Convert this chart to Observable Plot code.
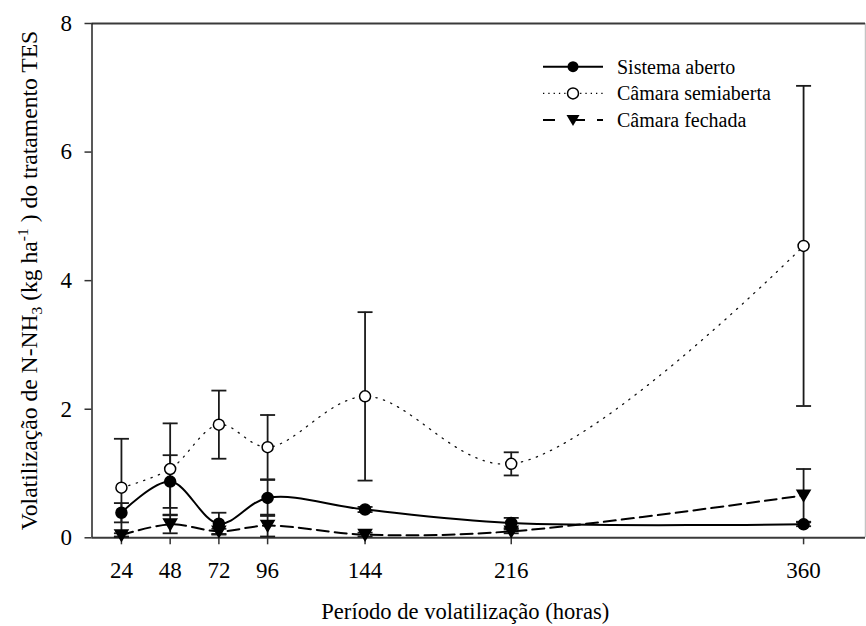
<!DOCTYPE html>
<html>
<head>
<meta charset="utf-8">
<script src="https://cdn.jsdelivr.net/npm/d3@7"></script>
<script src="https://cdn.jsdelivr.net/npm/@observablehq/plot@0.6"></script>
<style>
  html, body { margin: 0; padding: 0; background: white; }
  #chart { width: 866px; height: 626px; }
  #chart svg, #chart svg text { font-family: "Liberation Serif", Tinos, "DejaVu Serif", serif; }
</style>
</head>
<body>
<div id="chart"></div>
<script>
// ---- data ----
const hours = [24, 48, 72, 96, 144, 216, 360];
const seriesNames = ["Sistema aberto", "Câmara semiaberta", "Câmara fechada"];
const abertoMean  = [0.39, 0.875, 0.22, 0.62, 0.44, 0.23, 0.21];
const abertoSD    = [0.15, 0.41, 0.17, 0.28, 0.04, 0.08, 0.03];
const semiMean    = [0.78, 1.07, 1.76, 1.41, 2.20, 1.15, 4.54];
const semiSD      = [0.76, 0.71, 0.53, 0.50, 1.31, 0.18, 2.49];
const fechadaMean = [0.04, 0.21, 0.10, 0.19, 0.05, 0.10, 0.66];
const fechadaSD   = [0.03, 0.14, 0.04, 0.17, 0.03, 0.03, 0.41];
const yTicks = [0, 2, 4, 6, 8];
const xDomain = [9.5, 390.5];
const yDomain = [0, 8];
const xTitle = "Período de volatilização (horas)";

const build = (name, m, s) => hours.map((h, i) => ({series: name, hour: h, mean: m[i], lo: m[i] - s[i], hi: m[i] + s[i]}));
const aberto = build(seriesNames[0], abertoMean, abertoSD);
const semi = build(seriesNames[1], semiMean, semiSD);
const fechada = build(seriesNames[2], fechadaMean, fechadaSD);
const all = [...aberto, ...semi, ...fechada];

const capSymbol = {draw(ctx, size) { const r = Math.sqrt(size / Math.PI); ctx.moveTo(-r, 0); ctx.lineTo(r, 0); }};
const triDown = {draw(ctx, size) { const r = Math.sqrt(size / Math.PI); ctx.moveTo(-r, -r * 0.8); ctx.lineTo(r, -r * 0.8); ctx.lineTo(0, r * 0.9); ctx.closePath(); }};

const FONT = '"Liberation Serif", Tinos, "DejaVu Serif", serif';
const ink = "#1a1a1a";

const plot = Plot.plot({
  width: 866,
  height: 626,
  marginLeft: 91.5,
  marginRight: 1,
  marginTop: 23,
  marginBottom: 88.7,
  style: {fontFamily: FONT, fontSize: "23px", background: "white", color: "black"},
  x: {domain: xDomain},
  y: {domain: yDomain},
  marks: [
    Plot.ruleX([xDomain[1]], {stroke: "#c4c4c4", strokeWidth: 1.5}),
    Plot.ruleY([yDomain[1]], {stroke: "#3a3a3a", strokeWidth: 2}),
    Plot.ruleY([yDomain[0]], {stroke: "#3a3a3a", strokeWidth: 2}),
    Plot.ruleX([xDomain[0]], {stroke: "#222", strokeWidth: 1.5}),
    Plot.axisX({ticks: hours, tickSize: 7, tickPadding: 17, label: null, fontSize: 23, stroke: "#333", strokeWidth: 1.5}),
    Plot.axisY({ticks: yTicks, tickSize: 7, tickPadding: 13, label: null, fontSize: 23, tickFormat: d => String(d), stroke: "#333", strokeWidth: 1.5}),
    // error bars
    Plot.ruleX(all, {x: "hour", y1: "lo", y2: "hi", stroke: ink, strokeWidth: 1.8}),
    Plot.dot(all, {x: "hour", y: "lo", symbol: capSymbol, r: 7.5, fill: "none", stroke: ink, strokeWidth: 1.8}),
    Plot.dot(all, {x: "hour", y: "hi", symbol: capSymbol, r: 7.5, fill: "none", stroke: ink, strokeWidth: 1.8}),
    // lines
    Plot.line(semi, {x: "hour", y: "mean", curve: "catmull-rom", stroke: "#111", strokeWidth: 1.3, strokeDasharray: "1.3,6.5"}),
    Plot.line(fechada, {x: "hour", y: "mean", curve: "catmull-rom", stroke: "#000", strokeWidth: 2, strokeDasharray: "12,6"}),
    Plot.line(aberto, {x: "hour", y: "mean", curve: "catmull-rom", stroke: "#000", strokeWidth: 2}),
    // markers
    Plot.dot(fechada, {x: "hour", y: "mean", symbol: triDown, r: 6.5, fill: "black", stroke: "black"}),
    Plot.dot(aberto, {x: "hour", y: "mean", r: 5.5, fill: "black", stroke: "black"}),
    Plot.dot(semi, {x: "hour", y: "mean", r: 5.5, fill: "white", stroke: "black", strokeWidth: 1.5}),
    // x title
    Plot.text([xTitle], {text: d => d, frameAnchor: "bottom", dx: -13.5, dy: 81, fontSize: 22.6, fill: "black"})
  ]
});
document.getElementById("chart").appendChild(plot);

// y-axis title with subscript and superscript
const svg = d3.select(plot);
const yt = svg.append("text")
  .attr("transform", "translate(37,280.5) rotate(-90)")
  .attr("text-anchor", "middle")
  .style("font-family", FONT)
  .attr("font-size", 23.6)
  .attr("fill", "black");
yt.append("tspan").text("Volatilização de N-NH");
yt.append("tspan").attr("font-size", 15.5).attr("dy", 5).text("3");
yt.append("tspan").attr("dy", -5).text(" (kg ha");
yt.append("tspan").attr("font-size", 15.5).attr("dy", -9).text("-1");
yt.append("tspan").attr("dy", 9).text(" ) do tratamento TES");

// legend (inside the plot, top right)
const legendRows = [
  {name: seriesNames[0], dash: null, width: 2, marker: "filled"},
  {name: seriesNames[1], dash: "1.3,4", width: 1.2, marker: "open"},
  {name: seriesNames[2], dash: "12,18,12", width: 2, marker: "tri"}
];
const lg = svg.append("g").attr("text-anchor", "start");
legendRows.forEach((r, i) => {
  const y = 66.7 + i * 26.7;
  const g = lg.append("g").attr("transform", `translate(0,${y})`);
  const ln = g.append("line").attr("x1", 543).attr("x2", 603).attr("y1", 0).attr("y2", 0)
    .attr("stroke", "black").attr("stroke-width", r.width);
  if (r.dash) ln.attr("stroke-dasharray", r.dash);
  if (r.marker === "filled") g.append("circle").attr("cx", 573).attr("r", 5.5).attr("fill", "black");
  if (r.marker === "open") g.append("circle").attr("cx", 573).attr("r", 5.5).attr("fill", "white").attr("stroke", "black").attr("stroke-width", 1.5);
  if (r.marker === "tri") g.append("path").attr("d", "M566.5,-5.2L579.5,-5.2L573,5.8Z").attr("fill", "black");
  g.append("text").attr("x", 617).attr("y", 7).attr("text-anchor", "start")
    .style("font-family", FONT).attr("font-size", 20).attr("fill", "black").text(r.name);
});
</script>
</body>
</html>
